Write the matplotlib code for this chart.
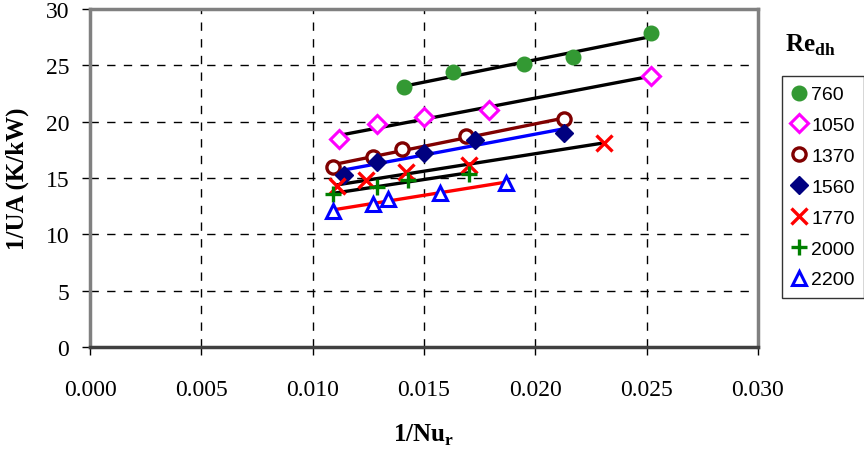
import matplotlib
matplotlib.use("Agg")
import matplotlib.pyplot as plt
import numpy as np

# data: 1/Nu_r versus 1/UA (K/kW) for each Re_dh
re_labels = ["760", "1050", "1370", "1560", "1770", "2000", "2200"]

x_760 = [0.0141, 0.0163, 0.0195, 0.0217, 0.0252]
y_760 = [23.1, 24.4, 25.1, 25.7, 27.9]

x_1050 = [0.0112, 0.0129, 0.0150, 0.0179, 0.0252]
y_1050 = [18.5, 19.8, 20.4, 21.0, 24.1]

x_1370 = [0.0109, 0.0127, 0.0140, 0.0169, 0.0213]
y_1370 = [16.0, 16.9, 17.6, 18.7, 20.2]

x_1560 = [0.0114, 0.0129, 0.0150, 0.0173, 0.0213]
y_1560 = [15.3, 16.4, 17.2, 18.4, 19.0]

x_1770 = [0.0111, 0.0124, 0.0142, 0.0170, 0.0231]
y_1770 = [14.3, 14.8, 15.5, 16.2, 18.1]

x_2000 = [0.0109, 0.0129, 0.0143, 0.0170]
y_2000 = [13.6, 14.2, 14.8, 15.4]

x_2200 = [0.0109, 0.0127, 0.0134, 0.0157, 0.0187]
y_2200 = [12.1, 12.7, 13.1, 13.7, 14.6]

xs = [x_760, x_1050, x_1370, x_1560, x_1770, x_2000, x_2200]
ys = [y_760, y_1050, y_1370, y_1560, y_1770, y_2000, y_2200]

# marker style per series, and colour of its trend line
styles = [
    dict(marker="o", color="#339933", mfc="#339933", ms=10.5, mew=1),
    dict(marker="D", color="#ff00ff", mfc="white", ms=9, mew=2.2),
    dict(marker="o", color="#800000", mfc="white", ms=9.5, mew=2.4),
    dict(marker="D", color="#000080", mfc="#000080", ms=9.5, mew=1),
    dict(marker="x", color="#ff0000", mfc="#ff0000", ms=11, mew=2.4),
    dict(marker="+", color="#008000", mfc="#008000", ms=12, mew=2.4),
    dict(marker="^", color="#0000ff", mfc="white", ms=10, mew=2.2),
]
line_colors = ["black", "black", "#800000", "#0000ff", "black", "black", "#ff0000"]

plt.rcParams["font.family"] = ["Liberation Serif", "DejaVu Serif"]

fig = plt.figure(figsize=(8.64, 4.56), dpi=100)
ax = fig.add_axes([0.1042, 0.2368, 0.7731, 0.7412])

handles = []
for x, y, st, lc, lab in zip(xs, ys, styles, line_colors, re_labels):
    # linear trend line through the points
    k, b = np.polyfit(x, y, 1)
    xl = np.array([min(x), max(x)])
    ax.plot(xl, k * xl + b, color=lc, lw=2.4, zorder=3)
    h, = ax.plot(x, y, ls="none", marker=st["marker"], color=st["color"],
                 mfc=st["mfc"], mec=st["color"], ms=st["ms"], mew=st["mew"],
                 zorder=4, label=lab)
    handles.append(h)

ax.set_xlim(0, 0.030)
ax.set_ylim(0, 30)
ax.set_xticks(np.arange(0, 0.0301, 0.005))
ax.set_yticks(np.arange(0, 31, 5))
ax.set_xticklabels(["%.3f" % v for v in np.arange(0, 0.0301, 0.005)])
ax.grid(True, color="black", ls=(0, (6, 6)), lw=1)
ax.tick_params(direction="out", length=6, width=1, labelsize=17,
               color="black")
ax.tick_params(axis="x", pad=17)
ax.tick_params(axis="y", pad=9)
for sp in ax.spines.values():
    sp.set_color("#808080")
    sp.set_linewidth(2.5)
ax.spines["bottom"].set_color("#404040")

ax.set_xlabel("1/Nu$_\\mathregular{r}$", fontsize=18, fontweight="bold",
              labelpad=16)
ax.set_ylabel("1/UA (K/kW)", fontsize=18, fontweight="bold", labelpad=12)

fig.text(0.909, 0.901, "Re$_\\mathregular{dh}$", fontsize=18,
         fontweight="bold", ha="left", va="center")

leg = fig.legend(handles=handles, loc="upper left",
                 bbox_to_anchor=(0.905, 0.831), frameon=True, fancybox=False,
                 edgecolor="black", borderpad=0.5, borderaxespad=0,
                 handlelength=0.75, handletextpad=0.25, labelspacing=0.68,
                 prop={"family": "Liberation Sans", "size": 14})
leg.get_frame().set_linewidth(1)

fig.savefig("out.png", dpi=100)
